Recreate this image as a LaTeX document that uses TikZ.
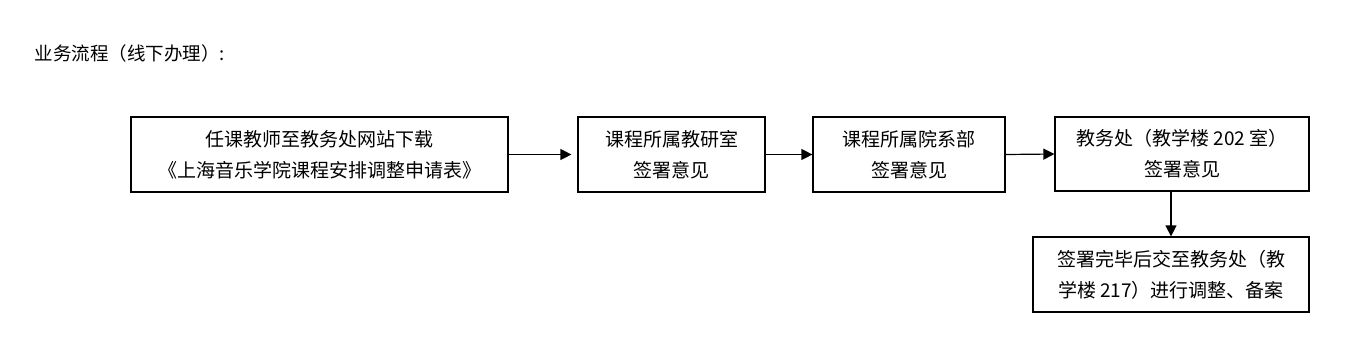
\documentclass[tikz,border=0pt]{standalone}
\usepackage{fontspec}
\setmainfont{Noto Sans CJK SC}
\usetikzlibrary{arrows.meta}
\begin{document}
\begin{tikzpicture}[x=1pt,y=-1pt,
  flowbox/.style={draw=black,line width=1.2pt,inner sep=0pt,align=center,font=\fontsize{19pt}{31pt}\selectfont},
  flowarrow/.style={line width=1.2pt,-{Triangle[length=11pt,width=11pt]}}]
\useasboundingbox (0,0) rectangle (1371,343);
\node[anchor=west,font=\fontsize{18.5pt}{22pt}\selectfont] (title) at (31,53) {业务流程（线下办理）:};
\node[flowbox,minimum width=377pt,minimum height=75pt] (b1) at (319.5,154.5) {任课教师至教务处网站下载\\《上海音乐学院课程安排调整申请表》};
\node[flowbox,minimum width=187pt,minimum height=75pt] (b2) at (671.5,154.5) {课程所属教研室\\签署意见};
\node[flowbox,minimum width=192pt,minimum height=75pt] (b3) at (909,154.5) {课程所属院系部\\签署意见};
\node[flowbox,minimum width=254pt,minimum height=74pt] (b4) at (1182,154) {教务处（教学楼 202 室）\\签署意见};
\node[flowbox,minimum width=276pt,minimum height=75pt] (b5) at (1171,274.5) {签署完毕后交至教务处（教\\学楼 217）进行调整、备案};
\draw[flowarrow,shorten >=6pt] (b1.east) -- (b2.west);
\draw[flowarrow] (b2.east) -- (b3.west);
\draw[flowarrow] (b3.east) -- (b4.west);
\draw[flowarrow] (b4.south -| b5.north) -- (b5.north);
\end{tikzpicture}
\end{document}
